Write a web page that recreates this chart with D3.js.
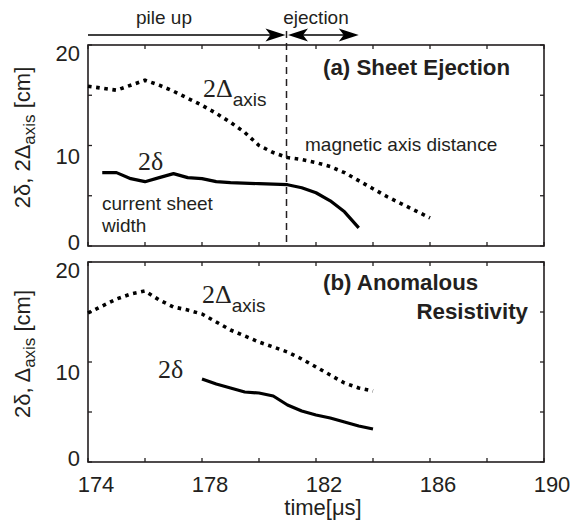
<!DOCTYPE html>
<html><head><meta charset="utf-8">
<script src="https://cdn.jsdelivr.net/npm/d3@7"></script>
<style>
body{margin:0;background:#fff;}
svg{display:block;}
text{font-family:"Liberation Sans",Arial,sans-serif;fill:#231f20;}
.serif{font-family:"Liberation Serif","Times New Roman",serif;}
</style></head>
<body>
<svg id="c" width="574" height="524"></svg>
<script>
// ---- data ----
const timeA_axis = [174,174.5,175,175.5,176,176.5,177,177.5,178,178.5,179,179.5,180,180.5,181,181.5,182,182.5,183,183.5,184,184.5,185,185.5,186];
const axisA = [15.9,15.7,15.5,16.0,16.5,16.0,15.4,14.7,14.0,13.2,12.3,11.3,10.0,9.3,8.8,8.6,8.3,7.9,7.3,6.5,5.7,4.9,4.2,3.5,2.8];
const timeA_delta = [174.5,175,175.5,176,176.5,177,177.5,178,178.5,179,180,181,181.5,182,182.5,183,183.5];
const deltaA = [7.3,7.3,6.7,6.4,6.8,7.2,6.8,6.7,6.4,6.3,6.2,6.1,5.8,5.3,4.5,3.4,1.8];
const timeB_axis = [174,174.5,175,175.5,176,176.5,177,177.5,178,178.5,179,179.5,180,180.5,181,181.5,182,182.5,183,183.5,184];
const axisB = [14.9,15.6,16.3,16.8,17.1,16.2,15.5,15.2,14.8,14.0,13.2,12.6,12.0,11.5,11.0,10.3,9.5,8.7,7.9,7.4,7.1];
const timeB_delta = [178,178.5,179,179.5,180,180.5,181,181.5,182,182.5,183,183.5,184];
const deltaB = [8.3,7.8,7.4,7.0,6.9,6.6,5.7,5.1,4.7,4.4,4.0,3.6,3.3];
const xTickLabels = [174,178,182,186,190];
const xTicks = [174,176,178,180,182,184,186,188,190];
const yTickLabels = [0,10,20];
const yTicks = [0,5,10,15,20];
const ejectionTime = 181;
const ejectionEnd = 183.5;

// ---- layout ----
const svg = d3.select("#c");
const L = 88, R = 544;
const x = d3.scaleLinear().domain([174,190]).range([L,R]);
const panels = [
  {top:45, bottom:246, ylab:"2δ, 2Δ", series:[[timeA_axis,axisA,true],[timeA_delta,deltaA,false]]},
  {top:262, bottom:462, ylab:"2δ, Δ", series:[[timeB_axis,axisB,true],[timeB_delta,deltaB,false]]}
];
const ink = "#231f20";
const yLabDy = {0:4, 10:18, 20:16};

panels.forEach((p,i)=>{
  const y = d3.scaleLinear().domain([0,20]).range([p.bottom,p.top]);
  const g = svg.append("g");
  g.append("rect").attr("x",L).attr("y",p.top).attr("width",R-L).attr("height",p.bottom-p.top)
    .attr("fill","none").attr("stroke",ink).attr("stroke-width",1.6);
  xTicks.forEach(t=>{
    g.append("line").attr("x1",x(t)).attr("x2",x(t)).attr("y1",p.bottom).attr("y2",p.bottom-4).attr("stroke",ink).attr("stroke-width",1.3);
    g.append("line").attr("x1",x(t)).attr("x2",x(t)).attr("y1",p.top).attr("y2",p.top+4).attr("stroke",ink).attr("stroke-width",1.3);
  });
  yTicks.forEach(t=>{
    g.append("line").attr("x1",L).attr("x2",L+4).attr("y1",y(t)).attr("y2",y(t)).attr("stroke",ink).attr("stroke-width",1.3);
    g.append("line").attr("x1",R).attr("x2",R-4).attr("y1",y(t)).attr("y2",y(t)).attr("stroke",ink).attr("stroke-width",1.3);
  });
  yTickLabels.forEach(t=>{
    g.append("text").attr("x",80).attr("y",y(t)+yLabDy[t]).attr("text-anchor","end")
      .attr("font-size",22).text(t);
  });
  const yt = g.append("text").attr("transform",`translate(30,${(p.top+p.bottom)/2 - 8}) rotate(-90)`)
    .attr("text-anchor","middle").attr("font-size",22);
  yt.append("tspan").text(p.ylab);
  yt.append("tspan").attr("font-size",17).attr("dy",5).text("axis");
  yt.append("tspan").attr("dy",-5).text(" [cm]");
  const line = d3.line().x(d=>x(d[0])).y(d=>y(d[1]));
  p.series.forEach(([ts,vs,dotted])=>{
    const pts = ts.map((t,k)=>[t,vs[k]]);
    g.append("path").attr("d",line(pts)).attr("fill","none").attr("stroke","#000")
      .attr("stroke-width",dotted?3.6:3.2)
      .attr("stroke-dasharray",dotted?"3.6,4.6":null)
      .attr("stroke-linejoin","round");
  });
});

xTickLabels.forEach(t=>{
  svg.append("text").attr("x",x(t)+8).attr("y",492).attr("text-anchor","middle").attr("font-size",22).text(t);
});
svg.append("text").attr("x",323).attr("y",515).attr("text-anchor","middle").attr("font-size",22).text("time[μs]");

function deltaAxis(xp,yb){
  const t = svg.append("text").attr("x",xp).attr("y",yb);
  t.append("tspan").attr("class","serif").attr("font-size",26).text("2Δ");
  t.append("tspan").attr("font-size",19).attr("dy",9).text("axis");
}
deltaAxis(203,97);
svg.append("text").attr("class","serif").attr("x",138).attr("y",170).attr("font-size",26).text("2δ");
svg.append("text").attr("x",102).attr("y",210).attr("font-size",19).text("current sheet");
svg.append("text").attr("x",102).attr("y",232).attr("font-size",19).text("width");
svg.append("text").attr("x",305).attr("y",151).attr("font-size",19).text("magnetic axis distance");
svg.append("text").attr("x",323).attr("y",75).attr("font-size",22.3).attr("font-weight","bold").text("(a) Sheet Ejection");
deltaAxis(202,303);
svg.append("text").attr("class","serif").attr("x",158).attr("y",378).attr("font-size",26).text("2δ");
svg.append("text").attr("x",323).attr("y",290).attr("font-size",22.3).attr("font-weight","bold").text("(b) Anomalous");
svg.append("text").attr("x",528).attr("y",319).attr("font-size",22.3).attr("font-weight","bold").attr("text-anchor","end").text("Resistivity");

svg.append("line").attr("x1",x(ejectionTime)-1).attr("x2",x(ejectionTime)-1).attr("y1",31).attr("y2",246)
  .attr("stroke",ink).attr("stroke-width",1.5).attr("stroke-dasharray","7,5");

function head(tipX,tipY,dir){
  const len=20, hw=6.5, notch=15;
  const d = `M${tipX},${tipY} L${tipX-dir*len},${tipY-hw} L${tipX-dir*notch},${tipY} L${tipX-dir*len},${tipY+hw} Z`;
  svg.append("path").attr("d",d).attr("fill","#000");
}
const ay = 35;
svg.append("line").attr("x1",x(174)).attr("x2",x(ejectionTime)-6).attr("y1",ay).attr("y2",ay).attr("stroke","#000").attr("stroke-width",1.6);
head(x(ejectionTime)-2,ay,1);
svg.append("line").attr("x1",x(ejectionTime)+6).attr("x2",x(ejectionEnd)-6).attr("y1",ay).attr("y2",ay).attr("stroke","#000").attr("stroke-width",1.6);
head(x(ejectionTime)+0.5,ay,-1);
head(x(ejectionEnd),ay,1);
svg.append("text").attr("x",164).attr("y",24).attr("text-anchor","middle").attr("font-size",19).text("pile up");
svg.append("text").attr("x",316).attr("y",24).attr("text-anchor","middle").attr("font-size",19).text("ejection");
</script>
</body></html>
